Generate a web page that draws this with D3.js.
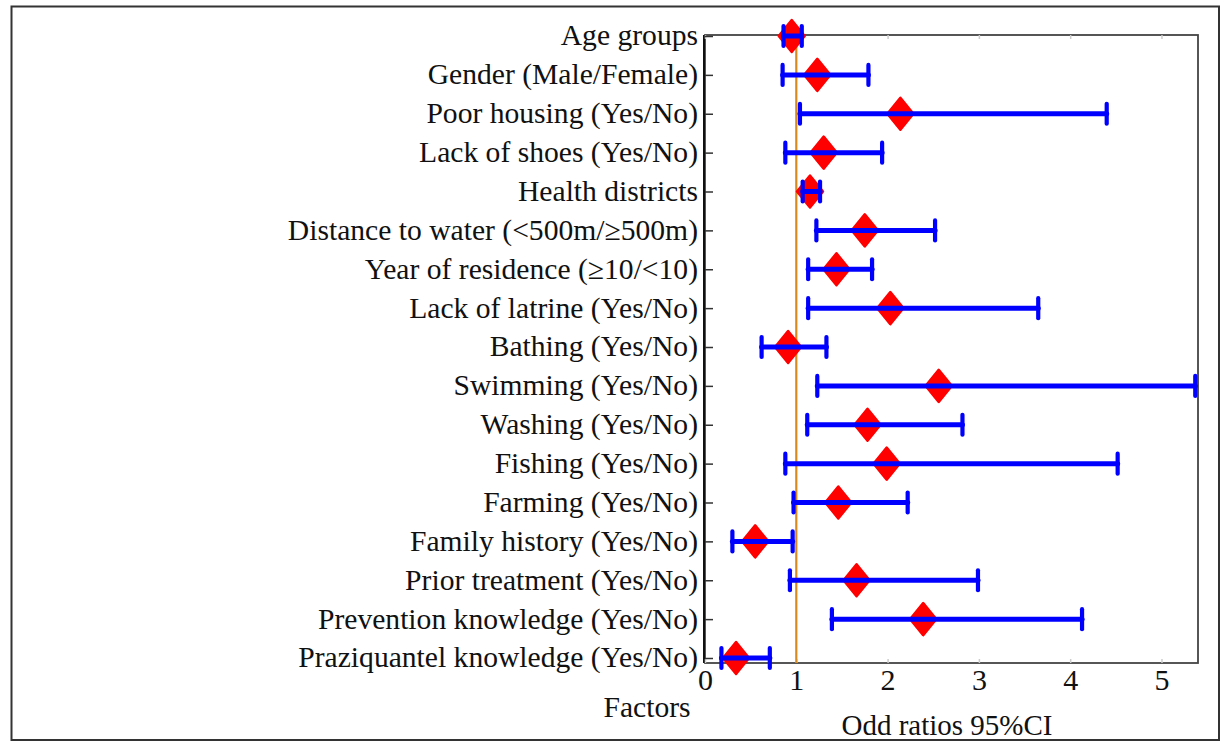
<!DOCTYPE html>
<html>
<head>
<meta charset="utf-8">
<script src="https://cdn.jsdelivr.net/npm/d3@7"></script>
<style>
  html, body { margin: 0; padding: 0; background: #fff; }
  svg { display: block; }
  text { font-family: "Liberation Serif", "Times New Roman", serif; fill: #111; }
</style>
</head>
<body>
<svg id="chart" width="1221" height="742"></svg>
<script>
const categories = [
  "Age groups",
  "Gender (Male/Female)",
  "Poor housing (Yes/No)",
  "Lack of shoes (Yes/No)",
  "Health districts",
  "Distance to water (<500m/\u2265500m)",
  "Year of residence (\u226510/<10)",
  "Lack of latrine (Yes/No)",
  "Bathing (Yes/No)",
  "Swimming (Yes/No)",
  "Washing (Yes/No)",
  "Fishing (Yes/No)",
  "Farming (Yes/No)",
  "Family history (Yes/No)",
  "Prior treatment (Yes/No)",
  "Prevention knowledge (Yes/No)",
  "Praziquantel knowledge (Yes/No)"
];
const oddsRatio = [0.95, 1.23, 2.14, 1.30, 1.15, 1.75, 1.44, 2.03, 0.91, 2.56, 1.78, 1.99, 1.46, 0.55, 1.66, 2.39, 0.34];
const ciLower   = [0.86, 0.85, 1.04, 0.88, 1.07, 1.22, 1.13, 1.13, 0.62, 1.23, 1.12, 0.88, 0.97, 0.30, 0.93, 1.39, 0.18];
const ciUpper   = [1.06, 1.79, 4.40, 1.94, 1.26, 2.52, 1.83, 3.65, 1.33, 5.37, 2.82, 4.52, 2.22, 0.96, 2.99, 4.13, 0.71];
const xTicks = [0, 1, 2, 3, 4, 5];
const referenceOR = 1;
const xTitle = "Odd ratios 95%CI";
const yTitle = "Factors";

const rows = categories.map((c, i) => ({ c, or: oddsRatio[i], lo: ciLower[i], hi: ciUpper[i] }));

const svg = d3.select("#chart");
const W = 1221, H = 742;
const plot = { left: 705, right: 1198, top: 35, bottom: 663 };

svg.append("rect").attr("width", W).attr("height", H).attr("fill", "#fff");

const x = d3.scaleLinear().domain([0, 5.4]).range([plot.left, plot.right]);
const y = d3.scalePoint().domain(categories).range([36, 658]);

// outer border
svg.append("rect")
  .attr("x", 11.5).attr("y", 6.5).attr("width", 1207.5).attr("height", 733.5)
  .attr("fill", "none").attr("stroke", "#333").attr("stroke-width", 2);

// plot frame
svg.append("rect")
  .attr("x", plot.left).attr("y", plot.top)
  .attr("width", plot.right - plot.left).attr("height", plot.bottom - plot.top)
  .attr("fill", "none").attr("stroke", "#444").attr("stroke-width", 1.8);
svg.append("line")
  .attr("x1", plot.left - 1).attr("x2", plot.left - 1)
  .attr("y1", plot.top).attr("y2", plot.bottom)
  .attr("stroke", "#111").attr("stroke-width", 2);

// x axis (bottom) with inward ticks
const xAxis = d3.axisBottom(x).tickValues(xTicks).tickSize(-4).tickPadding(14).tickFormat(d3.format("d"));
const gx = svg.append("g").attr("transform", `translate(0,${plot.bottom})`).call(xAxis);
gx.select(".domain").remove();
gx.selectAll(".tick line").attr("stroke", "#ccc").attr("stroke-width", 1.5);
gx.selectAll(".tick text").attr("font-size", 30).attr("font-family", "Liberation Serif").attr("fill", "#111").attr("dy", "0.42em");

// top inward ticks
const gxt = svg.append("g").attr("transform", `translate(0,${plot.top})`)
  .call(d3.axisTop(x).tickValues(xTicks).tickSize(-4).tickFormat(""));
gxt.select(".domain").remove();
gxt.selectAll(".tick line").attr("stroke", "#ccc").attr("stroke-width", 1.5);

// y axis with inward ticks
const yAxis = d3.axisLeft(y).tickSize(-8).tickPadding(16);
const gy = svg.append("g").attr("transform", `translate(${plot.left},0)`).call(yAxis);
gy.select(".domain").remove();
gy.selectAll(".tick line").attr("stroke", "#333").attr("stroke-width", 1.5);
gy.selectAll(".tick text").attr("font-size", 29.6).attr("font-family", "Liberation Serif").attr("fill", "#111").attr("x", -7).attr("dy", "0.3em");

// reference line at OR = 1
svg.append("line")
  .attr("x1", x(referenceOR)).attr("x2", x(referenceOR))
  .attr("y1", plot.top).attr("y2", plot.bottom)
  .attr("stroke", "#d98a1f").attr("stroke-width", 2.2);

// diamonds
svg.append("g").selectAll("path").data(rows).join("path")
  .attr("transform", d => `translate(${x(d.or)},${y(d.c)})`)
  .attr("d", "M0,-16L13,0L0,16L-13,0Z")
  .attr("fill", "#ff0000").attr("stroke", "#ff0000")
  .attr("stroke-width", 2.5).attr("stroke-linejoin", "round");

// error bars
const gb = svg.append("g").attr("stroke", "#0000ff").attr("stroke-linecap", "round");
gb.selectAll("line.bar").data(rows).join("line").attr("class", "bar")
  .attr("x1", d => x(d.lo)).attr("x2", d => x(d.hi))
  .attr("y1", d => y(d.c)).attr("y2", d => y(d.c))
  .attr("stroke-width", 5);
gb.selectAll("line.capl").data(rows).join("line").attr("class", "capl")
  .attr("x1", d => x(d.lo)).attr("x2", d => x(d.lo))
  .attr("y1", d => y(d.c) - 10).attr("y2", d => y(d.c) + 10)
  .attr("stroke-width", 4.2);
gb.selectAll("line.caph").data(rows).join("line").attr("class", "caph")
  .attr("x1", d => x(d.hi)).attr("x2", d => x(d.hi))
  .attr("y1", d => y(d.c) - 10).attr("y2", d => y(d.c) + 10)
  .attr("stroke-width", 4.2);

// titles
svg.append("text").attr("x", 647).attr("y", 717).attr("text-anchor", "middle")
  .attr("font-size", 29.6).text(yTitle);
svg.append("text").attr("x", 947).attr("y", 735).attr("text-anchor", "middle")
  .attr("font-size", 29).text(xTitle);
</script>
</body>
</html>
